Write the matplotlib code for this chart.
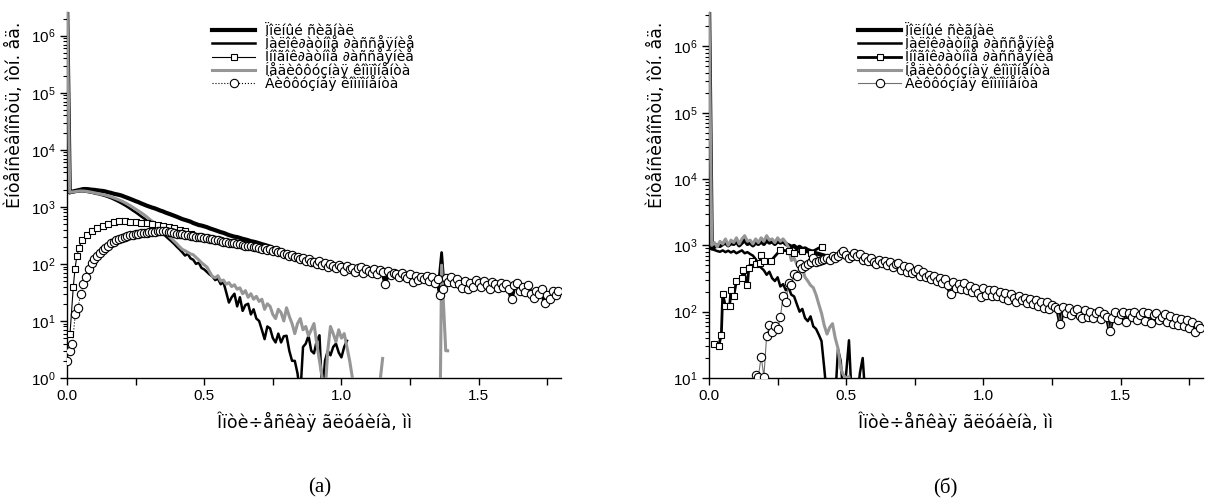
import matplotlib
matplotlib.use('Agg')
import matplotlib.pyplot as plt
import numpy as np
from matplotlib.ticker import LogLocator, MultipleLocator, FormatStrFormatter, NullFormatter

# ---------- text ----------
legend_labels = ['Ïîëíûé ñèãíàë',
                 'Ìàëîê∂àòíîå ∂àññåÿíèå',
                 'Ìíîãîê∂àòíîå ∂àññåÿíèå',
                 'Íåäèôôóçíàÿ êîìïîíåíòà',
                 'Äèôôóçíàÿ êîìïîíåíòà']
xlabel = 'Îïòè÷åñêàÿ ãëóáèíà, ìì'
ylabel = 'Èíòåíñèâíîñòü, îòí. åä.'
captions = ['(а)', '(б)']

STEP = 0.01     # sampling step of all series on the depth grid, mm
SPIKE = 5e6     # value of the peak at zero depth (goes off the top)

# ---------- panel (a) ----------
total_a = [SPIKE, 1800, 1850, 1900, 1950, 2000, 2050, 2050, 2030, 2000, 1980,
           1950, 1920, 1900, 1860, 1800, 1760, 1700, 1660, 1620, 1570,
           1500, 1440, 1380, 1320, 1260, 1210, 1150, 1100, 1050, 1010,
           970, 940, 900, 860, 830, 790, 760, 730, 700, 670,
           640, 610, 590, 570, 550, 520, 500, 480, 470, 455,
           440, 420, 405, 390, 375, 360, 350, 335, 320, 310,
           300, 295, 285, 275, 268, 260, 250, 245, 238, 230,
           222, 215, 208, 200, 190]
total_spike_a_x = [1.355, 1.365, 1.375]
total_spike_a = [50, 158, 35]

low_a = [1750, 1800, 1820, 1850, 1870, 1860, 1840, 1800, 1770, 1720,
         1680, 1640, 1590, 1540, 1480, 1420, 1350, 1280, 1210, 1140,
         1070, 1000, 930, 860, 800, 740, 680, 630, 580, 530,
         490, 450, 410, 375, 340, 305, 275, 250, 225, 200,
         180, 160, 140, 150, 125, 118, 100, 105, 85, 80,
         72, 65, 60, 52, 55, 44, 48, 32, 21, 26,
         30, 18, 26, 15, 19, 20, 13, 16, 11, 10,
         7, 4.8, 8, 7.4, 5, 4.2, 6, 4.2, 5.4, 5.5,
         3, 2, 2, 1.2, 0.5, 3.5, 4, 5.5, 3, 2.7,
         4.5, 5.6, 0.5, 2, 3, 2.5, 3.5, 4, 2.8, 2.3,
         3.5, 4.5]

nondiff_a = [SPIKE, 1800, 1820, 1850, 1880, 1900, 1890, 1870, 1840, 1800, 1760,
             1720, 1680, 1640, 1600, 1550, 1500, 1440, 1380, 1320, 1260,
             1190, 1120, 1050, 980, 910, 850, 790, 730, 670, 610,
             560, 520, 470, 430, 390, 350, 310, 280, 250, 225,
             200, 180, 170, 160, 150, 145, 130, 118, 105, 96,
             88, 72, 60, 57, 62, 50, 52, 44, 47, 40,
             43, 36, 38, 30, 34, 26, 30, 24, 27, 22,
             24, 16, 20, 18, 13, 11, 16, 14, 10, 17,
             12, 9, 6, 9, 11, 7, 8, 5.5, 7, 9,
             4, 2, 1, 0.5, 3, 8, 6, 4.3, 7, 5,
             6, 3.5, 2, 1, 0.5]
nondiff_a_seg_x = [[1.135, 1.15], [1.36, 1.365, 1.38, 1.387]]
nondiff_a_seg = [[0.5, 2.2], [0.5, 95, 3, 3]]

multi_a_x = [0.011, 0.023, 0.029, 0.036, 0.044, 0.054, 0.072, 0.09, 0.11, 0.13,
             0.15, 0.17, 0.19, 0.21, 0.23, 0.25, 0.27, 0.29, 0.31, 0.33,
             0.35, 0.37, 0.39, 0.41, 0.43, 0.45]
multi_a = [6, 40, 81, 138, 189, 265, 322, 370, 420, 460,
           500, 540, 555, 560, 550, 540, 530, 520, 500, 490,
           470, 450, 430, 400, 370, 340]

diff_a = [2, 3, 4, 13, 17, 30, 44, 60, 82, 105,
          120, 140, 155, 175, 190, 210, 230, 245, 262, 275,
          290, 298, 305, 315, 325, 330, 335, 345, 350, 352,
          355, 360, 365, 372, 378, 375, 370, 362, 355, 348,
          340, 335, 330, 322, 318, 310, 305, 300, 298, 292,
          290, 280, 275, 268, 262, 258, 250, 246, 240, 236,
          232, 228, 225, 220, 218, 210, 205, 202, 200, 196,
          192, 182, 188, 176, 180, 170, 174, 162, 164, 150,
          152, 140, 146, 130, 132, 122, 128, 114, 120, 108,
          110, 98, 112, 95, 104, 88, 100, 92, 84, 96,
          88, 76, 92, 80, 86, 72, 84, 90, 70, 82,
          76, 68, 80, 66, 78, 72, 45, 74, 64, 70,
          66, 58, 70, 62, 56, 66, 48, 62, 52, 60,
          55, 62, 50, 58, 46, 54, 28, 36, 56, 48,
          58, 46, 54, 44, 38, 50, 36, 46, 40, 52,
          47, 40, 50, 42, 36, 48, 44, 38, 46, 40,
          44, 36, 24, 42, 46, 34, 40, 32, 42, 30,
          25, 34, 30, 36, 21, 28, 24, 34, 28, 33]

# ---------- panel (b) ----------
total_b = [SPIKE, 900, 950, 1000, 980, 1050, 1100, 1000, 1080, 1050, 1150,
           1000, 1100, 1200, 1050, 1100, 1000, 1100, 1050, 1150, 1050,
           1200, 1100, 1150, 1050, 1150, 1100, 1150, 1050, 1000, 950,
           980, 900, 950, 880, 900, 850, 820, 800, 760, 740,
           720, 700, 680, 660]

low_b = [880, 850, 820, 800, 840, 790, 830, 780, 820, 760,
         800, 840, 760, 790, 740, 700, 620, 520, 460, 420,
         360, 400, 320, 290, 330, 240, 260, 210, 230, 180,
         170, 130, 100, 110, 80, 72, 85, 60, 55, 45,
         36, 14, 5, 5, 5, 5, 27, 18, 5, 12,
         37, 5, 5, 5, 12, 20, 5]

nondiff_b = [SPIKE, 1000, 1100, 950, 1150, 1050, 1250, 1000, 1200, 1100, 1300,
             1050, 1250, 1400, 1150, 1200, 1050, 1250, 1100, 1300, 1150,
             1400, 1200, 1250, 1100, 1300, 1150, 1250, 1100, 930, 590,
             640, 520, 480, 450, 330, 290, 250, 230, 180, 130,
             95, 62, 46, 58, 66, 40, 28, 14, 11, 10,
             10.5, 4]

multi_b_x = [0.02, 0.035, 0.045, 0.05, 0.06, 0.075, 0.08, 0.09, 0.1, 0.12,
             0.125, 0.14, 0.145, 0.155, 0.17, 0.185, 0.19, 0.2, 0.225, 0.26,
             0.29, 0.31, 0.34, 0.37, 0.41]
multi_b = [32, 30, 45, 185, 120, 120, 215, 170, 290, 320,
           430, 250, 460, 580, 520, 550, 720, 580, 580, 850,
           820, 780, 820, 780, 960]

diff_b_start = 0.17
diff_b = [11, 10.5, 21, 10.5, 43, 62, 49, 61, 55, 82,
          174, 138, 275, 250, 368, 340, 520, 460, 480, 520,
          560, 655, 560, 580, 600, 620, 640, 600, 680, 650,
          700, 760, 826, 720, 650, 700, 780, 700, 730, 610,
          660, 590, 650, 560, 520, 610, 540, 590, 500, 560,
          470, 520, 540, 430, 490, 400, 470, 380, 410, 440,
          350, 400, 330, 360, 310, 340, 290, 320, 270, 310,
          250, 184, 280, 230, 260, 220, 270, 210, 240, 200,
          230, 190, 164, 225, 180, 210, 175, 215, 170, 200,
          160, 190, 150, 182, 160, 140, 172, 150, 160, 135,
          158, 130, 150, 120, 142, 115, 138, 110, 128, 118,
          108, 65, 118, 95, 112, 90, 104, 110, 86, 80,
          105, 84, 100, 80, 96, 102, 78, 92, 84, 52,
          80, 98, 76, 92, 100, 70, 94, 82, 100, 74,
          88, 98, 72, 94, 68, 90, 96, 74, 84, 92,
          70, 86, 66, 80, 62, 78, 60, 74, 56, 70,
          49, 64, 57]

GRAY = '#969696'

plt.rcParams['font.family'] = ['Liberation Sans', 'DejaVu Sans']
plt.rcParams['mathtext.default'] = 'regular'


def grid(n, start=0.0):
    return np.round(start + STEP * np.arange(n), 4)


def style_axes(ax, ylim):
    ax.set_yscale('log')
    ax.set_xlim(0, 1.8)
    ax.set_ylim(*ylim)
    for s in ['top', 'right']:
        ax.spines[s].set_visible(False)
    for s in ['left', 'bottom']:
        ax.spines[s].set_linewidth(1.0)
    ax.xaxis.set_major_locator(MultipleLocator(0.5))
    ax.xaxis.set_minor_locator(MultipleLocator(0.25))
    ax.xaxis.set_major_formatter(FormatStrFormatter('%.1f'))
    ax.yaxis.set_major_locator(LogLocator(base=10, numticks=20))
    ax.yaxis.set_minor_locator(LogLocator(base=10, subs=np.arange(2, 10), numticks=20))
    ax.yaxis.set_minor_formatter(NullFormatter())
    ax.tick_params(which='major', direction='out', length=5, width=1, labelsize=11, pad=3)
    ax.tick_params(which='minor', direction='out', length=3, width=0.8)
    ax.tick_params(axis='x', which='minor', length=5, width=1)
    ax.set_xlabel(xlabel, fontfamily='DejaVu Sans', fontsize=12.5, labelpad=6)
    ax.set_ylabel(ylabel, fontfamily='DejaVu Sans', fontsize=12.5)
    ax.yaxis.set_label_coords(-0.087, 0.72)


def add_legend(ax, handles, x0, tpad):
    ax.legend(handles, legend_labels, loc='upper left',
              bbox_to_anchor=(x0 / 1206, 1 - 24 / 503),
              bbox_transform=ax.figure.transFigure, frameon=False,
              prop={'family': 'DejaVu Sans', 'size': 10},
              handlelength=3.1, handletextpad=tpad, labelspacing=-0.2,
              borderpad=0, borderaxespad=0, numpoints=1)


fig = plt.figure(figsize=(12.06, 5.03), dpi=100)
ax1 = fig.add_axes([67 / 1206, 1 - 378 / 503, 494 / 1206, 366 / 503])
ax2 = fig.add_axes([709 / 1206, 1 - 378 / 503, 494 / 1206, 366 / 503])

# ---- (a)
xd_a = grid(len(diff_a))
tail_a = len(total_a)
h_tot, = ax1.plot(grid(len(total_a)), total_a, color='black', lw=3.0, zorder=1)
ax1.plot(xd_a[tail_a - 1:], diff_a[tail_a - 1:], color='black', lw=3.0, zorder=1)
ax1.plot(total_spike_a_x, total_spike_a, color='black', lw=2.0, zorder=1)
h_low, = ax1.plot(grid(len(low_a), 0.01), low_a, color='black', lw=1.8, zorder=2)
h_nd, = ax1.plot(grid(len(nondiff_a)), nondiff_a, color=GRAY, lw=2.2, zorder=3)
for sx, sy in zip(nondiff_a_seg_x, nondiff_a_seg):
    ax1.plot(sx, sy, color=GRAY, lw=2.2, zorder=3)
h_mul, = ax1.plot(multi_a_x, multi_a, color='black', lw=0.8, marker='s', ms=4.5,
                  mfc='white', mec='black', mew=0.8, zorder=4)
h_dif, = ax1.plot(xd_a, diff_a, color='black', lw=0.8, ls=':', marker='o', ms=6,
                  mfc='white', mec='black', mew=0.8, zorder=5)
style_axes(ax1, (1, 2.6e6))
add_legend(ax1, [h_tot, h_low, h_mul, h_nd, h_dif], 212, 0.7)

# ---- (b)
xd_b = grid(len(diff_b), diff_b_start)
tail_b = int(round((len(total_b) * STEP - diff_b_start) / STEP))
h_tot, = ax2.plot(grid(len(total_b)), total_b, color='black', lw=3.0, zorder=1)
ax2.plot(xd_b[tail_b - 1:], diff_b[tail_b - 1:], color='black', lw=3.0, zorder=1)
h_low, = ax2.plot(grid(len(low_b), 0.01), low_b, color='black', lw=1.8, zorder=2)
h_nd, = ax2.plot(grid(len(nondiff_b)), nondiff_b, color=GRAY, lw=2.2, zorder=3)
h_mul, = ax2.plot(multi_b_x, multi_b, color='black', lw=2.0, marker='s', ms=4.5,
                  mfc='white', mec='black', mew=0.8, zorder=4)
h_dif, = ax2.plot(xd_b, diff_b, color='#707070', lw=0.8, marker='o', ms=6,
                  mfc='white', mec='black', mew=0.8, zorder=5)
style_axes(ax2, (10, 3.3e6))
add_legend(ax2, [h_tot, h_low, h_mul, h_nd, h_dif], 858, 0.25)

fig.text(320 / 1206, 1 - 488 / 503, captions[0], ha='center', va='center',
         family='Liberation Serif', fontsize=15)
fig.text(945 / 1206, 1 - 488 / 503, captions[1], ha='center', va='center',
         family='Liberation Serif', fontsize=15)

fig.savefig('out.png', dpi=100)
